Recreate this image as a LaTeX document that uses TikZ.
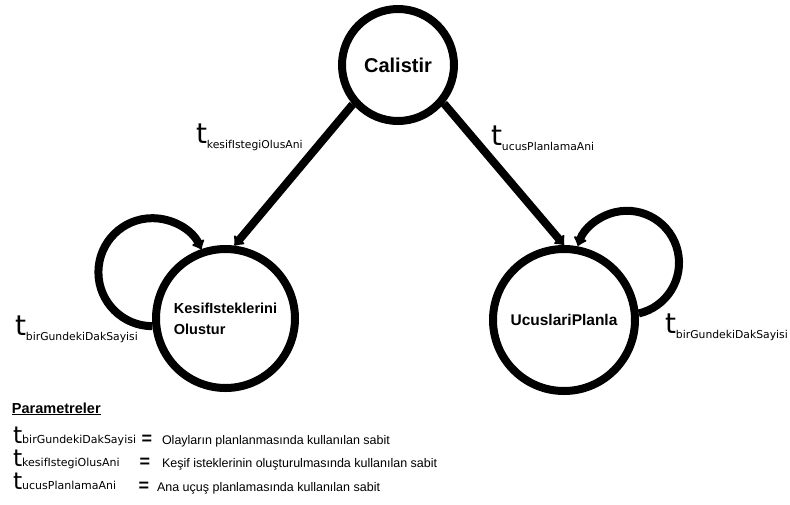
\documentclass[tikz,border=0pt]{standalone}
\usepackage{fontspec}
\setmainfont{Liberation Sans}
\newfontfamily\parfont{DejaVu Sans}
\usetikzlibrary{arrows.meta}

% parametre etiketleri: buyuk t ve alt indis
\newcommand{\tlab}[1]{{\parfont\fontsize{28}{28}\selectfont t}\raisebox{-5pt}{\parfont\fontsize{10.8}{12}\selectfont #1}}
\newcommand{\tleg}[1]{{\parfont\fontsize{23.5}{24}\selectfont t}\raisebox{-0.5pt}{\parfont\fontsize{11}{12}\selectfont #1}}

\begin{document}
\begin{tikzpicture}[x=1pt,y=1pt,line width=8pt,>={Latex[length=9pt,width=17pt,round]},
  state/.style={draw,circle,inner sep=0pt,font=\fontsize{15.5}{18}\selectfont\bfseries},
  param/.style={anchor=base west,inner sep=0pt},
  esit/.style={inner sep=0pt,font=\fontsize{18}{18}\selectfont\bfseries},
  aciklama/.style={anchor=west,inner sep=0pt,font=\fontsize{12.5}{14}\selectfont}]
  \useasboundingbox (0,0) rectangle (790,-504);
  % ===================== durumlar =====================
  \node[state,minimum size=112pt,font=\fontsize{20}{22}\selectfont\bfseries] (calistir) at (398,-65) {Calistir};
  \node[state,minimum size=139pt,align=left,font=\fontsize{14.5}{21}\selectfont\bfseries] (kesif) at (225.5,-318.5) {KesifIsteklerini\\Olustur};
  \node[state,minimum size=142pt] (ucus) at (564,-320) {UcuslariPlanla};
  % ===================== gecisler =====================
  \draw[->] (calistir.221) -- (kesif.83);
  \draw[->] (calistir.-40) -- (ucus.90);
  % kendine donen gecisler
  \draw[->] (kesif.186) arc[start angle=270,end angle=25,radius=54pt];
  \draw[->] (ucus.5) arc[start angle=-77,end angle=161,radius=52pt];
  % ===================== etiketler =====================
  \node[param] (tkesif) at (192,-143) {\tlab{kesifIstegiOlusAni}};
  \node[param] (tucus) at (487,-145) {\tlab{ucusPlanlamaAni}};
  \node[param] (tbirsol) at (11,-335) {\tlab{birGundekiDakSayisi}};
  \node[param] (tbirsag) at (661,-333) {\tlab{birGundekiDakSayisi}};
  % ===================== parametreler =====================
  \node[param,font=\fontsize{14.5}{16}\selectfont\bfseries] (baslik) at (8,-413) {\underline{Parametreler}};
  \node[param] (par1) at (9,-443) {\tleg{birGundekiDakSayisi}};
  \node[param] (par2) at (9,-466) {\tleg{kesifIstegiOlusAni}};
  \node[param] (par3) at (9,-489) {\tleg{ucusPlanlamaAni}};
  \node[esit] (esit1) at (147,-440) {=};
  \node[esit] (esit2) at (145,-463) {=};
  \node[esit] (esit3) at (144,-487) {=};
  \node[aciklama] (ack1) at (158,-441) {Olayların planlanmasında kullanılan sabit};
  \node[aciklama] (ack2) at (158,-464) {Keşif isteklerinin oluşturulmasında kullanılan sabit};
  \node[aciklama] (ack3) at (153,-488) {Ana uçuş planlamasında kullanılan sabit};
\end{tikzpicture}
\end{document}
